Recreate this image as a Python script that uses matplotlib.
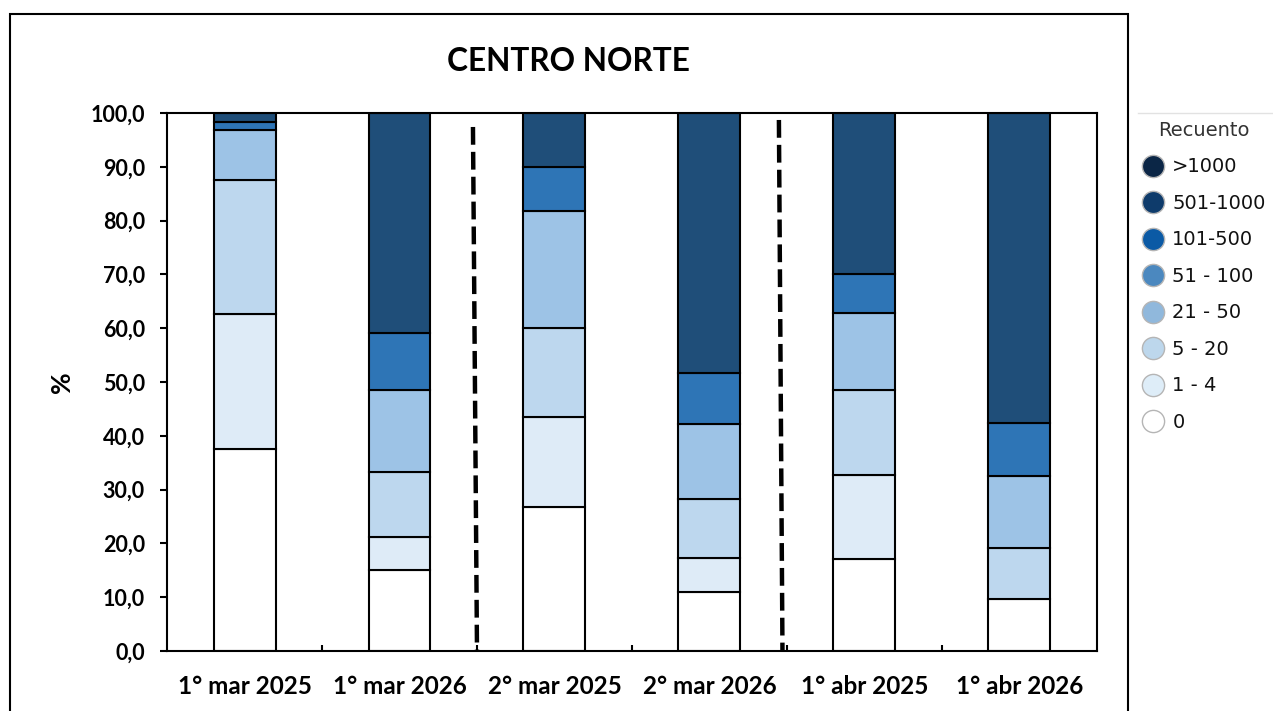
import matplotlib
matplotlib.use('Agg')
import matplotlib.pyplot as plt
import numpy as np
from matplotlib.lines import Line2D
from matplotlib.patches import Rectangle
from matplotlib.ticker import FuncFormatter

# datos (% por rango de recuento, de abajo hacia arriba)
categorias = ['1° mar 2025', '1° mar 2026', '2° mar 2025',
              '2° mar 2026', '1° abr 2025', '1° abr 2026']
r_0 = [37.5, 15.1, 26.7, 10.9, 17.1, 9.6]
r_1_4 = [25.1, 6.1, 16.8, 6.3, 15.7, 0.0]
r_5_20 = [25.0, 12.1, 16.6, 11.0, 15.8, 9.6]
r_21_50 = [9.2, 15.2, 21.6, 13.9, 14.3, 13.4]
r_51_500 = [1.6, 10.6, 8.3, 9.5, 7.1, 9.7]
r_mas_500 = [100 - sum(v) for v in zip(r_0, r_1_4, r_5_20, r_21_50, r_51_500)]

leyenda_labels = ['>1000', '501-1000', '101-500', '51 - 100',
                  '21 - 50', '5 - 20', '1 - 4', '0']

series = [r_0, r_1_4, r_5_20, r_21_50, r_51_500, r_mas_500]
colores_barras = ['#ffffff', '#deebf7', '#bdd7ee', '#9dc3e6', '#2e75b6', '#1f4e79']
colores_leyenda = ['#0b2646', '#0e3b6b', '#0b5aa5', '#4b88bf',
                   '#90b8dc', '#bdd7ec', '#deedf8', '#ffffff']

plt.rcParams['font.family'] = ['Lato', 'DejaVu Sans']

fig = plt.figure(figsize=(12.73, 7.11), dpi=100)
ax = fig.add_axes([0.1312, 0.0844, 0.7305, 0.7567])

x = np.arange(len(categorias))
base = np.zeros(len(categorias))
for vals, col in zip(series, colores_barras):
    vals = np.array(vals)
    mask = vals > 0
    ax.bar(x[mask], vals[mask], bottom=base[mask], width=0.4, color=col,
           edgecolor='black', linewidth=1.5, zorder=2)
    base = base + vals

# lineas de separacion
ax.plot([1.474, 1.5], [97.4, 0], color='black', lw=3.2,
        linestyle=(0, (4, 1.6)), zorder=3)
ax.plot([3.448, 3.471], [98.7, 0], color='black', lw=3.2,
        linestyle=(0, (4, 1.6)), zorder=3)

ax.set_xlim(-0.5, 5.5)
ax.set_ylim(0, 100)
ax.set_yticks(np.arange(0, 101, 10))
ax.yaxis.set_major_formatter(FuncFormatter(lambda v, p: f'{v:.1f}'.replace('.', ',')))
ax.set_xticks(x)
ax.set_xticklabels(categorias)
ax.set_xticks(np.arange(0.5, 5.0, 1.0), minor=True)
ax.tick_params(axis='x', which='major', length=0, pad=17)
ax.tick_params(axis='x', which='minor', direction='in', length=4, width=1.5)
ax.tick_params(axis='y', direction='out', length=5, width=1.5, pad=11)
for lab in ax.get_xticklabels():
    lab.set_fontsize(17.5)
    lab.set_fontweight('bold')
for lab in ax.get_yticklabels():
    lab.set_fontsize(15.5)
    lab.set_fontweight('bold')
for s in ax.spines.values():
    s.set_linewidth(1.5)
    s.set_color('black')
ax.set_ylabel('%', fontsize=19, fontweight='bold', labelpad=12)

fig.text(0.4462, 0.914, 'CENTRO NORTE', ha='center', va='center',
         fontsize=22.8, fontweight='bold')

# marco del grafico
fig.patches.append(Rectangle((10 / 1273, -0.1), 1118 / 1273, 1.08,
                             transform=fig.transFigure, fill=False,
                             edgecolor='black', linewidth=1.5))
fig.add_artist(Line2D([1138 / 1273, 1.0], [1 - 113 / 711] * 2,
                      transform=fig.transFigure, color='#e2e2e2', lw=1))

handles = [Line2D([0], [0], marker='o', linestyle='none', markersize=16,
                  markerfacecolor=c, markeredgecolor='#b5b5b5', markeredgewidth=1)
           for c in colores_leyenda]
leg = fig.legend(handles, leyenda_labels, title='Recuento', frameon=False,
                 loc='upper left', bbox_to_anchor=(0.8965, 0.830),
                 prop={'family': ['DejaVu Sans'], 'size': 14},
                 title_fontproperties={'family': ['DejaVu Sans'], 'size': 14},
                 labelspacing=0.9, handletextpad=0.4, handlelength=1.2,
                 borderaxespad=0, borderpad=0)
for t in leg.get_texts():
    t.set_color('#111111')
leg.get_title().set_color('#333333')

fig.savefig('out.png', dpi=100)
